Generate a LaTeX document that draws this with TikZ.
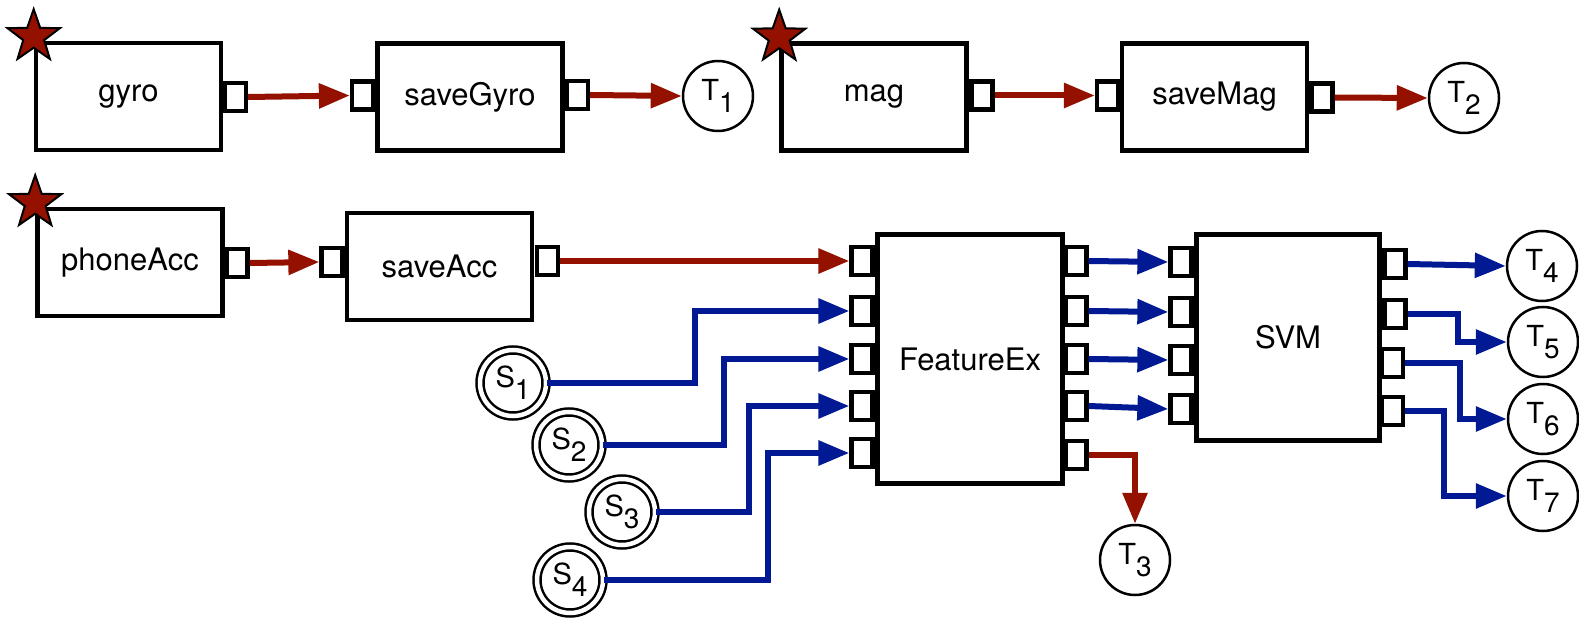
\documentclass[tikz,border=0pt]{standalone}
\usepackage{fontspec}
\setmainfont{TeX Gyre Heros}
\usetikzlibrary{arrows.meta,shapes.geometric}
\definecolor{cay}{HTML}{941100}
\definecolor{mid}{HTML}{011993}
\newcommand{\tlab}[2]{#1\raisebox{-12pt}{\fontsize{28}{28}\selectfont #2}}
\begin{document}
\begin{tikzpicture}[x=1pt,y=-1pt,
  blk/.style={draw,line width=4.6pt,fill=white,inner sep=0pt,minimum width=185pt,minimum height=107pt,font=\fontsize{31}{36}\selectfont},
  port/.style={draw,line width=4.3pt,fill=white,inner sep=0pt,minimum width=21pt,minimum height=28pt},
  tnode/.style={circle,draw,line width=2.5pt,fill=white,inner sep=0pt,minimum size=70pt,font=\fontsize{29}{36}\selectfont},
  snode/.style={circle,draw,double,line width=2.5pt,double distance=4.5pt,inner sep=0pt,minimum size=66pt,font=\fontsize{29}{36}\selectfont},
  starsty/.style={star,star points=5,star point ratio=2.5,minimum size=55pt,inner sep=0pt,fill=cay,draw=black,line width=2pt},
  rline/.style={draw=cay,line width=6pt,-{Triangle[length=31pt,width=24pt]}},
  bline/.style={draw=mid,line width=6pt,-{Triangle[length=31pt,width=24pt]}}
]
\useasboundingbox (0,0) rectangle (1579,620);
% top row
\node[blk] (gyro) at (128.5,96.5) {gyro};
\node[port] (gyo) at (235.5,97) {};
\node[blk] (sgyro) at (470,97) {saveGyro};
\node[port] (sgi) at (362.5,95.5) {};
\node[port] (sgo) at (577.5,95) {};
\node[tnode] (t1) at (718,96) {\tlab{T}{1}};
\node[blk] (mag) at (874,97) {mag};
\node[port] (mgo) at (982,95.5) {};
\node[blk] (smag) at (1214.5,97) {saveMag};
\node[port] (smi) at (1107.5,95.5) {};
\node[port] (smo) at (1322,97.5) {};
\node[tnode] (t2) at (1464,98) {\tlab{T}{2}};
% second row
\node[blk] (pacc) at (130,262.5) {phoneAcc};
\node[port] (pao) at (237,263) {};
\node[blk] (sacc) at (439.5,266.5) {saveAcc};
\node[port] (sai) at (332,262) {};
\node[port] (sao) at (547.5,261) {};
% FeatureEx
\node[blk,minimum width=185pt,minimum height=249pt] (fe) at (970,359) {FeatureEx};
\node[port] (fei1) at (862,261) {};
\node[port] (fei2) at (862,311) {};
\node[port] (fei3) at (862,359) {};
\node[port] (fei4) at (862,406) {};
\node[port] (fei5) at (862,453) {};
\node[port] (feo1) at (1076,261) {};
\node[port] (feo2) at (1076,311) {};
\node[port] (feo3) at (1076,359) {};
\node[port] (feo4) at (1076,406) {};
\node[port] (feo5) at (1076,455) {};
% SVM
\node[blk,minimum width=183pt,minimum height=206pt] (svm) at (1288,337.5) {SVM};
\node[port] (svi1) at (1181,262) {};
\node[port] (svi2) at (1181,312) {};
\node[port] (svi3) at (1181,360) {};
\node[port] (svi4) at (1181,409) {};
\node[port] (svo1) at (1395,264) {};
\node[port] (svo2) at (1395,314) {};
\node[port] (svo3) at (1392.5,363) {};
\node[port] (svo4) at (1392.5,411) {};
% terminals
\node[tnode] (t3) at (1135,560) {\tlab{T}{3}};
\node[tnode] (t4) at (1542,266) {\tlab{T}{4}};
\node[tnode] (t5) at (1543,342) {\tlab{T}{5}};
\node[tnode] (t6) at (1543,419) {\tlab{T}{6}};
\node[tnode] (t7) at (1543,496) {\tlab{T}{7}};
% sources
\node[snode] (s1) at (513,383) {\tlab{S}{1}};
\node[snode] (s2) at (569,445) {\tlab{S}{2}};
\node[snode] (s3) at (622,512) {\tlab{S}{3}};
\node[snode] (s4) at (570,580) {\tlab{S}{4}};
% stars
\node[starsty] (st1) at ([yshift=4pt]gyro.north west) {};
\node[starsty] (st2) at ([yshift=4pt]mag.north west) {};
\node[starsty] (st3) at ([yshift=4pt]pacc.north west) {};
% red connectors
\draw[rline] (gyo.east) -- (sgi.west);
\draw[rline] (sgo.east) -- (t1.west);
\draw[rline] (mgo.east) -- (smi.west);
\draw[rline] (smo.east) -- (t2.west);
\draw[rline] (pao.east) -- (sai.west);
\draw[rline] (sao.east) -- (fei1.west);
\draw[rline] (feo5.east) -| (t3.north);
% blue connectors
\draw[bline] (s1.east) -- ++(148,0) |- (fei2.west);
\draw[bline] (s2.east) -- ++(121,0) |- (fei3.west);
\draw[bline] (s3.east) -- ++(93,0) |- (fei4.west);
\draw[bline] (s4.east) -- ++(164,0) |- (fei5.west);
\draw[bline] (feo1.east) -- (svi1.west);
\draw[bline] (feo2.east) -- (svi2.west);
\draw[bline] (feo3.east) -- (svi3.west);
\draw[bline] (feo4.east) -- (svi4.west);
\draw[bline] (svo1.east) -- (t4.west);
\draw[bline] (svo2.east) -- ++(50,0) |- (t5.west);
\draw[bline] (svo3.east) -- ++(55,0) |- (t6.west);
\draw[bline] (svo4.east) -- ++(39,0) |- (t7.west);
\end{tikzpicture}
\end{document}
